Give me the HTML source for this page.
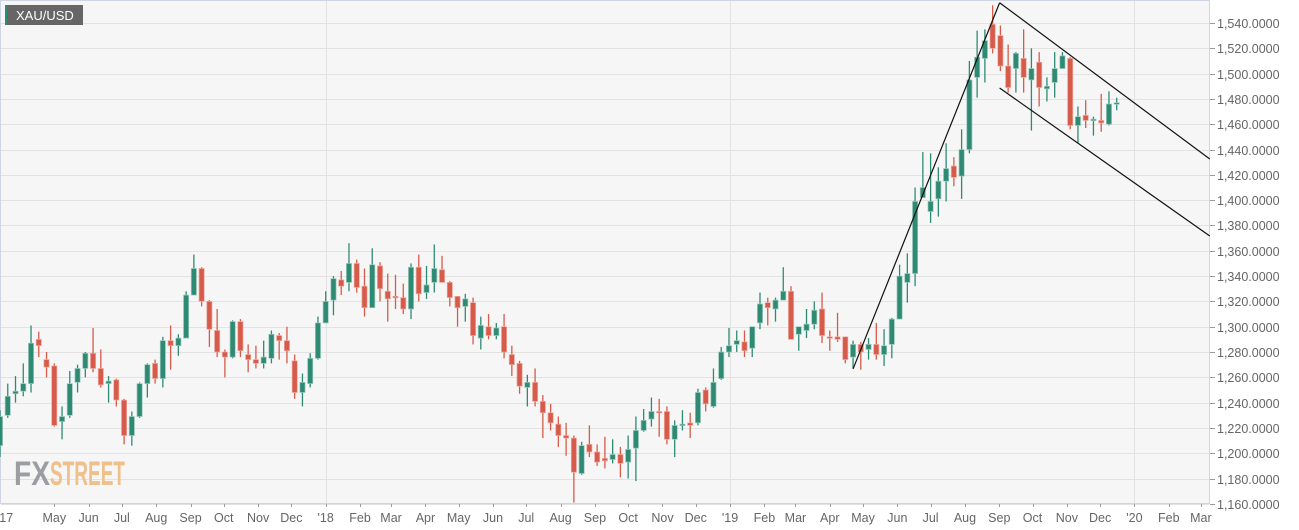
<!DOCTYPE html>
<html><head><meta charset="utf-8"><style>
html,body{margin:0;padding:0;background:#fff;}
svg{display:block;font-family:"Liberation Sans",sans-serif;}
</style></head><body>
<svg id="chart" width="1299" height="530" viewBox="0 0 1299 530" xmlns="http://www.w3.org/2000/svg">
<rect x="0.5" y="0.5" width="1209" height="503" fill="#f6f6f6" stroke="#cfd5e3"/>
<g id="grid"></g><g id="xaxis"></g><g id="yaxis"></g>
<g>
<text x="14" y="485" font-size="34" font-weight="bold" fill="#9b9da2" textLength="36" lengthAdjust="spacingAndGlyphs">FX</text>
<text x="50" y="485" font-size="34" font-weight="bold" fill="#f0c08a" textLength="75" lengthAdjust="spacingAndGlyphs">STREET</text>
</g>
<g id="candles"></g><g id="lines"></g>
<g>
<rect x="5" y="5" width="78" height="20" fill="#666"/>
<rect x="5" y="5" width="2" height="20" fill="#2e8b72"/>
<text x="16" y="20" font-size="13" fill="#fff">XAU/USD</text>
</g>
</svg>
<script>
// weekly OHLC, first candle = week of 2017-03-13
const opens=[1206,1230,1247,1249,1255,1290,1274,1269,1225,1230,1256,1267,1279,1267,1255,1258,1242,1214,1229,1255,1271,1259,1289,1285,1291,1325,1346,1320,1297,1280,1276,1304,1278,1274,1271,1275,1293,1289,1273,1248,1255,1275,1303,1321,1337,1335,1350,1332,1315,1348,1328,1324,1323,1314,1347,1327,1335,1345,1335,1324,1316,1319,1291,1300,1293,1300,1278,1271,1252,1256,1241,1232,1223,1214,1212,1184,1207,1201,1196,1195,1199,1193,1204,1218,1227,1233,1233,1211,1222,1224,1224,1250,1237,1259,1280,1286,1288,1283,1303,1319,1314,1321,1328,1294,1297,1302,1314,1292,1292,1292,1276,1286,1282,1286,1278,1286,1306,1335,1342,1402,1391,1401,1415,1427,1419,1440,1497,1512,1539,1530,1506,1504,1512,1495,1509,1488,1493,1504,1512,1459,1467,1463,1463,1460,1476];
const highs=[1234,1255,1261,1271,1301,1296,1280,1271,1237,1265,1270,1280,1299,1282,1261,1259,1243,1233,1256,1271,1274,1292,1301,1294,1328,1357,1347,1321,1314,1282,1305,1306,1286,1285,1289,1297,1295,1300,1278,1263,1279,1308,1328,1340,1344,1366,1353,1346,1362,1351,1342,1341,1334,1350,1357,1348,1365,1356,1336,1324,1326,1323,1308,1310,1303,1310,1285,1273,1262,1267,1246,1239,1229,1224,1214,1209,1222,1207,1213,1211,1205,1214,1229,1235,1244,1243,1237,1226,1234,1232,1251,1252,1267,1284,1299,1297,1297,1300,1327,1323,1323,1347,1332,1300,1314,1320,1327,1297,1311,1292,1289,1288,1291,1303,1298,1307,1349,1358,1410,1438,1437,1426,1445,1434,1456,1510,1534,1535,1554,1538,1523,1517,1535,1520,1517,1497,1517,1517,1513,1474,1479,1466,1484,1486,1481];
const lows=[1197,1228,1240,1245,1248,1276,1260,1221,1211,1228,1248,1260,1264,1252,1240,1237,1207,1206,1228,1244,1255,1252,1266,1277,1291,1325,1316,1284,1276,1260,1275,1276,1264,1267,1267,1271,1274,1271,1243,1237,1252,1274,1303,1309,1325,1328,1327,1308,1315,1320,1304,1314,1310,1306,1320,1322,1327,1335,1316,1300,1304,1286,1282,1290,1290,1275,1261,1247,1237,1237,1212,1218,1205,1198,1161,1183,1197,1190,1188,1192,1181,1180,1178,1217,1221,1213,1207,1197,1218,1212,1222,1233,1236,1258,1276,1280,1276,1276,1298,1301,1304,1321,1290,1281,1291,1298,1287,1281,1288,1271,1267,1266,1274,1274,1269,1275,1306,1319,1332,1402,1382,1387,1399,1411,1401,1437,1481,1493,1516,1502,1485,1485,1485,1455,1474,1478,1481,1504,1456,1445,1457,1451,1454,1459,1471];
const closes=[1229,1245,1249,1255,1287,1285,1268,1222,1229,1255,1267,1279,1267,1254,1257,1242,1214,1229,1255,1270,1259,1289,1285,1291,1325,1346,1320,1298,1280,1276,1304,1281,1274,1271,1276,1294,1289,1281,1248,1256,1275,1303,1320,1338,1332,1350,1331,1315,1349,1330,1322,1323,1314,1347,1326,1333,1346,1335,1323,1315,1322,1293,1301,1293,1299,1280,1270,1253,1256,1241,1232,1224,1214,1212,1185,1206,1201,1193,1194,1199,1192,1203,1218,1226,1233,1233,1211,1222,1223,1222,1248,1239,1256,1280,1285,1289,1281,1300,1318,1315,1321,1328,1290,1300,1302,1313,1293,1292,1290,1274,1286,1280,1286,1278,1285,1306,1340,1342,1399,1410,1399,1415,1425,1418,1440,1495,1513,1526,1520,1506,1489,1516,1497,1504,1489,1490,1504,1514,1459,1466,1463,1464,1461,1476,1477];
const priceTicks=[1160,1180,1200,1220,1240,1260,1280,1300,1320,1340,1360,1380,1400,1420,1440,1460,1480,1500,1520,1540];
const monthLabels=["'17","May","Jun","Jul","Aug","Sep","Oct","Nov","Dec","'18","Feb","Mar","Apr","May","Jun","Jul","Aug","Sep","Oct","Nov","Dec","'19","Feb","Mar","Apr","May","Jun","Jul","Aug","Sep","Oct","Nov","Dec","'20","Feb","Mar"];
const monthDates=["2017-03-15","2017-05-01","2017-06-01","2017-07-01","2017-08-01","2017-09-01","2017-10-01","2017-11-01","2017-12-01","2018-01-01","2018-02-01","2018-03-01","2018-04-01","2018-05-01","2018-06-01","2018-07-01","2018-08-01","2018-09-01","2018-10-01","2018-11-01","2018-12-01","2019-01-01","2019-02-01","2019-03-01","2019-04-01","2019-05-01","2019-06-01","2019-07-01","2019-08-01","2019-09-01","2019-10-01","2019-11-01","2019-12-01","2020-01-01","2020-02-01","2020-03-01"];
// trendlines: [candle index, price] endpoints
const trendRise=[[110,1266.6],[128.9,1556]];
const channelTop=[[128.9,1556],[156,1432.5]];
const channelBottom=[[128.9,1488.6],[156,1371.7]];

const NS="http://www.w3.org/2000/svg";
const STEP=7.755, X0=0, START=Date.UTC(2017,2,13);
const yS=v=>23+(1540-v)*1.2654;
const xS=i=>X0+i*STEP;
const xDate=s=>{const p=s.split('-');return (Date.UTC(+p[0],+p[1]-1,+p[2])-START)/864e5/7*STEP;};
function mk(tag,attrs,parent){const e=document.createElementNS(NS,tag);for(const k in attrs)e.setAttribute(k,attrs[k]);parent.appendChild(e);return e;}
const grid=document.getElementById('grid'),ya=document.getElementById('yaxis'),xa=document.getElementById('xaxis');
priceTicks.forEach(v=>{
  const y=Math.round(yS(v))+0.5;
  const g=mk('line',{x1:1,x2:1209,y1:y,y2:y,stroke:'#e2e2e2','stroke-width':1},grid);
  
  
  mk('line',{x1:1210,x2:1215,y1:y,y2:y,stroke:'#999'},ya);
  const t=mk('text',{x:1217,y:y+4.5,'font-size':12.5,fill:'#666'},ya);
  t.textContent=v.toLocaleString('en-US')+'.0000';
  
  
});
monthLabels.forEach((m,i)=>{
  const x=xDate(monthDates[i]);
  if(m.startsWith("'")&&i>0){
    const v=mk('line',{x1:Math.round(x)+0.5,x2:Math.round(x)+0.5,y1:1,y2:503,stroke:'#e2e2e2'},grid);
    
    
  }
  if(i>0) mk('line',{x1:Math.round(x)+0.5,x2:Math.round(x)+0.5,y1:504,y2:507,stroke:'#999'},xa);
  const t=mk('text',{x:i===0?5:x,y:522,'font-size':12.5,fill:'#666','text-anchor':'middle'},xa);
  t.textContent=m;
  
  
});
const cg=document.getElementById('candles');
opens.forEach((o,i)=>{
  const c=closes[i],up=c>o;
  const col=up?'#2f8a74':'#d65b4a', edge=up?'#9ccabd':'#eeaaa0';
  const x=xS(i);
  const g=mk('g',{},cg);
  
  
  mk('line',{x1:x,x2:x,y1:yS(highs[i]),y2:yS(lows[i]),stroke:col,'stroke-width':1.3},g);
  const top=yS(Math.max(o,c)),bot=yS(Math.min(o,c));
  mk('rect',{x:x-2.6,y:top,width:5.2,height:Math.max(1.5,bot-top),fill:col,stroke:edge,'stroke-width':0.7},g);
});
const lg=document.getElementById('lines');
[trendRise,channelTop,channelBottom].forEach((l,k)=>{
  const e=mk('line',{x1:xS(l[0][0]),y1:yS(l[0][1]),x2:xS(l[1][0]),y2:yS(l[1][1]),stroke:'#111','stroke-width':1.2},lg);
  
  
});
</script>
</body></html>
